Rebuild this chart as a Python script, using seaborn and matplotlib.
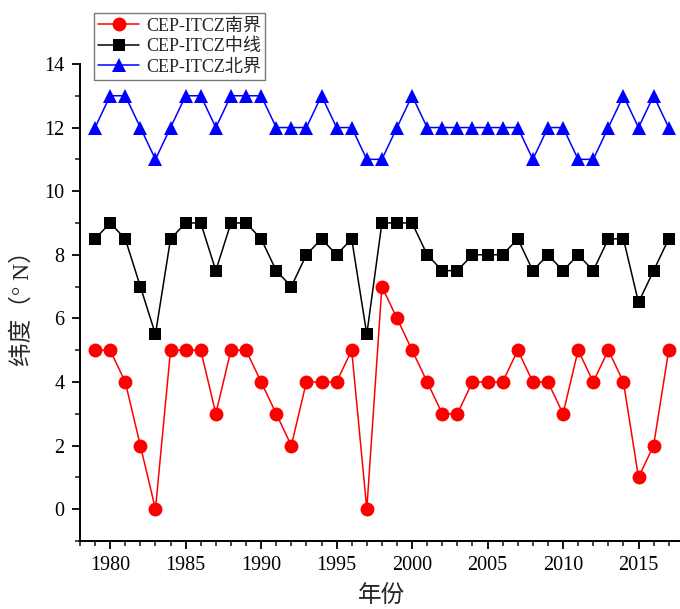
import numpy as np
import pandas as pd
import matplotlib
matplotlib.use("Agg")
import matplotlib.pyplot as plt
from matplotlib.ticker import MultipleLocator
import seaborn as sns

years = list(range(1979, 2018))
south = [5, 5, 4, 2, 0, 5, 5, 5, 3, 5, 5, 4, 3, 2, 4, 4, 4, 5, 0,
         7, 6, 5, 4, 3, 3, 4, 4, 4, 5, 4, 4, 3, 5, 4, 5, 4, 1, 2, 5]
middle = [8.5, 9, 8.5, 7, 5.5, 8.5, 9, 9, 7.5, 9, 9, 8.5, 7.5, 7, 8, 8.5, 8, 8.5, 5.5,
          9, 9, 9, 8, 7.5, 7.5, 8, 8, 8, 8.5, 7.5, 8, 7.5, 8, 7.5, 8.5, 8.5, 6.5, 7.5, 8.5]
north = [12, 13, 13, 12, 11, 12, 13, 13, 12, 13, 13, 13, 12, 12, 12, 13, 12, 12, 11,
         11, 12, 13, 12, 12, 12, 12, 12, 12, 12, 11, 12, 12, 11, 11, 12, 13, 12, 13, 12]
series_names = ["CEP-ITCZ南界", "CEP-ITCZ中线", "CEP-ITCZ北界"]

df = pd.DataFrame({
    "year": years * 3,
    "lat": south + middle + north,
    "series": [series_names[0]] * len(years) + [series_names[1]] * len(years)
              + [series_names[2]] * len(years),
})

sns.set_style("white")
serif = ["Liberation Serif", "Noto Sans CJK SC"]
plt.rcParams["font.family"] = serif

fig = plt.figure(figsize=(6.8, 6.09), dpi=100)
ax = fig.add_axes([0.1176, 0.1117, 0.888, 0.7833])

palette = {series_names[0]: "#ff0000", series_names[1]: "#000000", series_names[2]: "#0000ff"}
markers = {series_names[0]: "o", series_names[1]: "s", series_names[2]: "^"}
sizes = {"o": 10, "s": 8.8, "^": 10.5}

for name in series_names:
    sub = df[df["series"] == name]
    sns.lineplot(data=sub, x="year", y="lat", ax=ax, color=palette[name],
                 marker=markers[name], markersize=sizes[markers[name]],
                 markeredgewidth=0, linewidth=1.1, label=name, legend=False)

ax.set_xlim(1978, 2018)
ax.set_ylim(-1, 14)
ax.xaxis.set_major_locator(MultipleLocator(5))
ax.xaxis.set_minor_locator(MultipleLocator(1))
ax.yaxis.set_major_locator(MultipleLocator(2))
ax.yaxis.set_minor_locator(MultipleLocator(1))
ax.set_xticks([1980, 1985, 1990, 1995, 2000, 2005, 2010, 2015])

for side in ["top", "right"]:
    ax.spines[side].set_visible(False)
for side in ["left", "bottom"]:
    ax.spines[side].set_linewidth(1.4)
    ax.spines[side].set_color("black")

ax.tick_params(axis="both", which="major", direction="out", length=6, width=1.3,
               labelsize=14.5, colors="black", left=True, bottom=True, pad=5)
ax.tick_params(axis="both", which="minor", direction="out", length=3.5, width=1.2,
               left=True, bottom=True)

ax.set_xlabel("年份", fontsize=17, family=serif, labelpad=7)
ax.set_ylabel("纬度（° N）", fontsize=17, family=serif, labelpad=8)

handles, labels = ax.get_legend_handles_labels()
leg = fig.legend(handles, labels, loc="upper left", bbox_to_anchor=(0.138, 0.978),
                 frameon=True, fancybox=False, edgecolor="#777777", framealpha=1,
                 fontsize=13, handlelength=2.3, handletextpad=0.4,
                 labelspacing=0.2, borderpad=0.22, borderaxespad=0)
leg.get_frame().set_linewidth(1.0)

fig.savefig("out.png", dpi=100)
